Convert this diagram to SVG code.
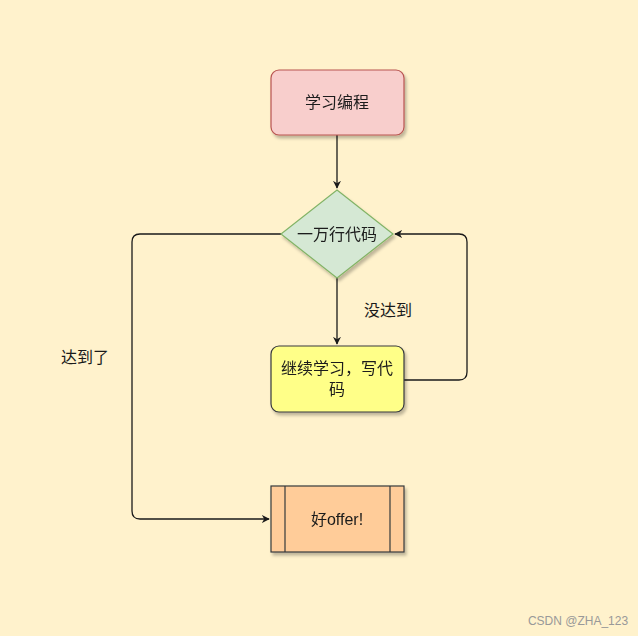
<svg xmlns="http://www.w3.org/2000/svg" width="638" height="636" viewBox="0 0 638 636">
<defs>
<style>
text{font-family:"Liberation Sans","Noto Sans CJK SC",sans-serif;font-size:16px;fill:#1a1a1a;text-anchor:middle}
.n{stroke-width:1.2}
.e{fill:none;stroke:#1a1a1a;stroke-width:1.3}
</style>
<marker id="a" viewBox="0 0 10 10" refX="9" refY="5" markerWidth="8" markerHeight="8" orient="auto" markerUnits="userSpaceOnUse"><path d="M0,0L10,5L0,10L3,5Z" fill="#1a1a1a"/></marker>
<filter id="s"><feDropShadow dx="2" dy="3" stdDeviation="1.5" flood-color="#000" flood-opacity="0.25"/></filter>
</defs>
<rect width="638" height="636" fill="#fff2cc"/>
<g id="connectors">
<path class="e" d="M337,135V188" marker-end="url(#a)"/>
<path class="e" d="M337,278V344" marker-end="url(#a)"/>
<path class="e" d="M404,380H459Q467,380 467,372V242Q467,234 459,234H395" marker-end="url(#a)"/>
<path class="e" d="M281,234H140Q132,234 132,242V511Q132,519 140,519H269" marker-end="url(#a)"/>
<text x="388" y="316">没达到</text>
<text x="85" y="363">达到了</text>
</g>
<g id="start" filter="url(#s)"><rect class="n" x="271" y="70" width="133" height="65" rx="8" fill="#f8cecc" stroke="#b85450"/><text x="337" y="108">学习编程</text></g>
<g id="decision" filter="url(#s)"><path class="n" d="M337,190L393,234L337,278L281,234Z" fill="#d5e8d4" stroke="#82b366"/><text x="337" y="240">一万行代码</text></g>
<g id="continue" filter="url(#s)"><rect class="n" x="271" y="346" width="133" height="66" rx="8" fill="#ffff88" stroke="#36393d"/><text x="337" y="374">继续学习，写代</text><text x="337" y="395">码</text></g>
<g id="offer" filter="url(#s)"><rect class="n" x="271" y="486" width="133" height="66" fill="#ffcc99" stroke="#36393d"/><path class="n" d="M285,486V552M390,486V552" stroke="#36393d"/><text x="337" y="525">好offer!</text></g>
<text x="578" y="625" style="font-size:12px;fill:#999">CSDN @ZHA_123</text>
</svg>
